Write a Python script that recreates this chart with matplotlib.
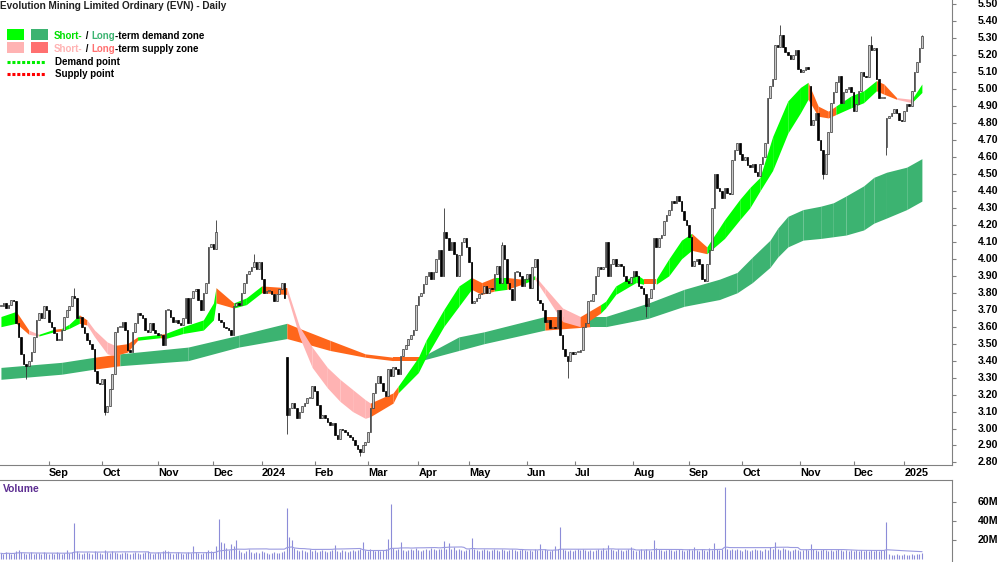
import numpy as np
import pandas as pd
import matplotlib
matplotlib.use("Agg")
import matplotlib.pyplot as plt
from matplotlib.patches import Rectangle
from matplotlib.lines import Line2D
from matplotlib.transforms import blended_transform_factory

plt.rcParams['font.family'] = ['Liberation Sans', 'DejaVu Sans']

TITLE = "Evolution Mining Limited Ordinary (EVN) - Daily"

# trading calendar of the window (ASX holidays removed)
first_day = "2023-08-07"
holidays = ["2023-12-25", "2023-12-26", "2024-01-01", "2024-01-26", "2024-03-29",
            "2024-04-01", "2024-04-25", "2024-06-10", "2024-12-25", "2024-12-26",
            "2025-01-01"]

# daily closes
closes = [
    3.72, 3.74, 3.71, 3.73, 3.76, 3.75, 3.62, 3.54, 3.44, 3.38, 3.37, 3.40, 3.45, 3.54, 3.64, 3.68, 3.65, 3.72, 3.70, 3.63,
    3.60, 3.56, 3.52, 3.52, 3.58, 3.66, 3.70, 3.72, 3.78, 3.77, 3.65, 3.66, 3.60, 3.56, 3.52, 3.50, 3.47, 3.34, 3.27, 3.26,
    3.29, 3.10, 3.13, 3.23, 3.32, 3.57, 3.60, 3.60, 3.63, 3.58, 3.46, 3.45, 3.57, 3.62, 3.68, 3.67, 3.65, 3.58, 3.57, 3.62,
    3.58, 3.56, 3.55, 3.55, 3.49, 3.70, 3.70, 3.66, 3.63, 3.64, 3.62, 3.61, 3.65, 3.77, 3.62, 3.77, 3.81, 3.82, 3.76, 3.70,
    3.80, 3.86, 4.07, 4.09, 4.06, 4.16, 3.64, 3.63, 3.60, 3.59, 3.58, 3.55, 3.72, 3.74, 3.73, 3.80, 3.86, 3.91, 3.93, 3.95,
    3.98, 3.94, 3.98, 3.88, 3.80, 3.81, 3.81, 3.79, 3.75, 3.79, 3.82, 3.86, 3.77, 3.08, 3.12, 3.15, 3.12, 3.06, 3.10, 3.13,
    3.15, 3.18, 3.18, 3.25, 3.22, 3.14, 3.06, 3.08, 3.06, 3.04, 3.02, 3.03, 2.96, 2.94, 3.00, 2.99, 2.98, 2.96, 2.95, 2.93,
    2.90, 2.88, 2.86, 2.90, 2.92, 2.98, 3.12, 3.21, 3.27, 3.31, 3.27, 3.22, 3.19, 3.35, 3.31, 3.36, 3.35, 3.32, 3.43, 3.47,
    3.49, 3.53, 3.55, 3.58, 3.73, 3.78, 3.80, 3.85, 3.90, 3.92, 3.88, 3.92, 4.00, 4.05, 3.90, 4.16, 4.12, 4.05, 4.10, 4.03,
    3.90, 4.02, 4.10, 4.12, 4.07, 3.98, 3.74, 3.75, 3.77, 3.79, 3.80, 3.84, 3.80, 3.83, 3.82, 3.91, 3.96, 3.86, 4.08, 4.00,
    3.86, 3.82, 3.76, 3.92, 3.92, 3.90, 3.84, 3.88, 3.91, 3.83, 3.95, 4.00, 3.76, 3.74, 3.70, 3.63, 3.64, 3.59, 3.60, 3.59,
    3.70, 3.55, 3.47, 3.43, 3.40, 3.45, 3.44, 3.45, 3.45, 3.46, 3.60, 3.62, 3.75, 3.75, 3.79, 3.90, 3.95, 3.94, 3.95, 4.10,
    3.90, 3.97, 4.00, 3.96, 3.97, 3.96, 3.90, 3.87, 3.86, 3.89, 3.93, 3.90, 3.84, 3.83, 3.79, 3.72, 3.77, 3.82, 4.12, 4.07,
    4.12, 4.14, 4.22, 4.26, 4.29, 4.34, 4.33, 4.37, 4.34, 4.28, 4.23, 4.20, 4.13, 3.96, 3.99, 4.00, 3.97, 3.88, 3.87, 3.97,
    4.05, 4.30, 4.50, 4.42, 4.40, 4.36, 4.42, 4.39, 4.38, 4.58, 4.64, 4.68, 4.62, 4.58, 4.60, 4.55, 4.54, 4.56, 4.51, 4.49,
    4.56, 4.60, 4.68, 4.95, 5.02, 5.06, 5.26, 5.25, 5.32, 5.25, 5.22, 5.20, 5.18, 5.20, 5.23, 5.12, 5.10, 5.11, 5.13, 5.12,
    4.79, 4.82, 4.86, 4.70, 4.64, 4.50, 4.62, 4.75, 4.92, 4.98, 5.04, 5.08, 4.92, 4.98, 5.00, 5.01, 4.98, 4.87, 4.91, 4.99,
    5.10, 5.08, 5.07, 5.26, 5.23, 5.24, 5.06, 4.95, 4.95, 4.95, 4.83, 4.84, 4.86, 4.88, 4.86, 4.82, 4.81, 4.87, 4.91, 4.90,
    4.99, 5.10, 5.16, 5.24, 5.31,
]
# opens that gapped away from the previous close
gap_opens = {86: 3.68, 113: 3.42, 320: 5.02, 350: 4.66}
# visible wick extremes
wick_highs = {29: 3.83, 85: 4.23, 100: 4.03, 175: 4.30, 198: 4.10, 308: 5.38, 344: 5.31, 364: 5.32}
wick_lows = {10: 3.29, 41: 3.08, 113: 2.97, 142: 2.84, 224: 3.30, 255: 3.66, 325: 4.47, 350: 4.61}

# volume in millions
volumes = [
    6, 5, 7, 6, 5, 6, 8, 9, 7, 6, 5, 6, 7, 5, 6, 6, 5, 7, 6, 5,
    6, 5, 7, 6, 5, 6, 9, 6, 7, 38, 8, 6, 5, 6, 7, 6, 5, 8, 7, 6,
    5, 9, 7, 6, 8, 7, 6, 5, 6, 7, 6, 5, 6, 7, 6, 5, 6, 7, 8, 6,
    5, 6, 7, 6, 8, 9, 8, 6, 5, 6, 7, 6, 5, 6, 7, 6, 14, 7, 6, 5,
    6, 7, 9, 8, 7, 14, 42, 18, 17, 12, 9, 16, 14, 20, 9, 7, 6, 8, 11, 7,
    6, 7, 6, 8, 7, 6, 5, 6, 7, 6, 6, 7, 8, 54, 23, 20, 12, 9, 8, 9,
    8, 7, 10, 8, 9, 7, 8, 9, 8, 7, 8, 9, 15, 8, 7, 9, 8, 7, 8, 9,
    8, 9, 10, 18, 9, 8, 10, 9, 8, 9, 8, 9, 10, 21, 58, 12, 9, 10, 18, 9,
    8, 9, 10, 9, 12, 9, 8, 9, 10, 9, 12, 10, 9, 11, 10, 19, 11, 17, 10, 13,
    9, 10, 9, 8, 9, 10, 22, 11, 9, 8, 9, 10, 9, 8, 9, 10, 9, 8, 10, 9,
    8, 9, 10, 9, 8, 9, 11, 9, 8, 9, 8, 10, 9, 16, 9, 10, 9, 8, 9, 14,
    10, 34, 10, 9, 8, 9, 8, 9, 10, 9, 10, 9, 8, 9, 8, 9, 10, 9, 12, 9,
    15, 11, 9, 8, 10, 9, 8, 9, 10, 13, 9, 8, 9, 10, 9, 11, 9, 8, 20, 12,
    11, 9, 8, 9, 10, 9, 8, 9, 10, 9, 8, 9, 10, 9, 13, 9, 8, 10, 9, 8,
    12, 9, 17, 10, 9, 11, 76, 10, 9, 11, 9, 10, 9, 8, 10, 9, 8, 9, 10, 9,
    9, 8, 10, 9, 13, 10, 18, 11, 9, 12, 10, 9, 8, 9, 10, 9, 8, 9, 10, 9,
    16, 10, 9, 8, 9, 10, 9, 8, 9, 8, 9, 10, 9, 8, 9, 8, 9, 8, 9, 8,
    9, 8, 9, 8, 9, 8, 9, 8, 9, 9, 39, 5, 4, 4, 5, 4, 4, 5, 4, 4,
    5, 4, 5, 5, 6,
]

# short-term zone: day index, upper edge, lower edge, state of the following stretch
# D = demand, S = supply, T = turning
st_idx = [0, 6, 11, 15, 21, 24, 27, 31, 34, 37, 42, 45, 50, 54, 63, 65, 72, 80, 84, 85,
          92, 97, 103, 113, 118, 123, 129, 134, 139, 144, 146, 155, 157, 165, 168, 175, 181, 186, 190, 195,
          200, 206, 211, 215, 222, 229, 237, 239, 243, 251, 254, 259, 264, 269, 273, 279, 286, 292, 296, 300,
          305, 311, 316, 319, 323, 327, 330, 336, 341, 346, 349, 354, 360, 364]
st_top = [3.66, 3.69, 3.58, 3.555, 3.585, 3.59, 3.615, 3.67, 3.64, 3.58,
          3.51, 3.49, 3.50, 3.54, 3.555, 3.56, 3.60, 3.64, 3.74, 3.83,
          3.74, 3.77, 3.84, 3.83, 3.60, 3.48, 3.36, 3.29, 3.23, 3.17,
          3.15, 3.21, 3.25, 3.42, 3.52, 3.70, 3.84, 3.89, 3.86, 3.89,
          3.89, 3.88, 3.90, 3.83, 3.71, 3.66, 3.73, 3.75, 3.84, 3.91,
          3.88, 3.88, 4.00, 4.11, 4.15, 4.07, 4.23, 4.35, 4.42, 4.48,
          4.72, 4.93, 5.01, 5.04, 4.90, 4.87, 4.90, 4.96, 4.99, 5.05,
          5.03, 4.95, 4.94, 5.03]
st_bot = [3.60, 3.62, 3.555, 3.545, 3.57, 3.575, 3.59, 3.62, 3.61, 3.54,
          3.44, 3.43, 3.45, 3.52, 3.535, 3.53, 3.56, 3.58, 3.64, 3.74,
          3.71, 3.73, 3.80, 3.79, 3.54, 3.36, 3.24, 3.16, 3.10, 3.06,
          3.07, 3.15, 3.21, 3.33, 3.42, 3.60, 3.72, 3.82, 3.79, 3.81,
          3.82, 3.85, 3.88, 3.79, 3.63, 3.60, 3.68, 3.71, 3.79, 3.86,
          3.85, 3.85, 3.90, 4.00, 4.05, 4.03, 4.12, 4.23, 4.30, 4.40,
          4.52, 4.74, 4.86, 4.94, 4.84, 4.83, 4.85, 4.89, 4.92, 4.99,
          4.97, 4.94, 4.92, 4.98]
st_state = ("DTSDTDDTSS" "STTDTDDDDT" "DDTSSSSSSS" "TTDDDDDTTD"
            "TDSSSTDDDD" "TDDDTDDDDD" "DDDTTTDDDT" "TSDD")

# long-term zone
lt_idx = [0, 24, 37, 47, 74, 94, 113, 118, 130, 144, 155, 166, 181, 191, 215, 233, 239,
          256, 270, 284, 291, 297, 304, 307, 311, 317, 324, 329, 334, 341, 345, 350, 358, 364]
lt_top = [3.36, 3.39, 3.42, 3.44, 3.48, 3.55, 3.62, 3.59, 3.52, 3.44, 3.42, 3.42, 3.54, 3.57,
          3.66, 3.66, 3.66, 3.74, 3.82, 3.88, 3.92, 4.01, 4.11, 4.18, 4.25, 4.29, 4.31, 4.33,
          4.37, 4.43, 4.48, 4.51, 4.54, 4.59]
lt_bot = [3.29, 3.32, 3.35, 3.37, 3.40, 3.48, 3.53, 3.51, 3.46, 3.42, 3.40, 3.40, 3.46, 3.50,
          3.58, 3.60, 3.60, 3.65, 3.72, 3.76, 3.80, 3.86, 3.95, 4.01, 4.07, 4.11, 4.12, 4.13,
          4.14, 4.17, 4.21, 4.24, 4.29, 4.34]
lt_state = "DDSDDDSSSSSDDDSDDDDDDDDDDDDDDDDDDD"

short_colors = {"D": "#00ff00", "S": "#ffb3b3", "T": "#ff661a"}
long_colors = {"D": "#3cb371", "S": "#ff661a"}

W, H = 1000, 562
XMIN, XMAX = -0.37, 375.9


def fx(px):
    return px / W


def fy(py):
    return 1 - py / H


cal = pd.offsets.CustomBusinessDay(holidays=holidays)
days = pd.date_range(first_day, periods=len(closes), freq=cal)
x = np.arange(len(closes))

fig = plt.figure(figsize=(10, 5.62), dpi=100)
ax = fig.add_axes([0, fy(465), fx(952), 465 / H])
vax = fig.add_axes([0, 0, fx(952), 82 / H])

# zones
for k in range(len(lt_idx) - 1):
    ax.fill_between([lt_idx[k], lt_idx[k + 1]], [lt_top[k], lt_top[k + 1]], [lt_bot[k], lt_bot[k + 1]],
                    color=long_colors[lt_state[k]], lw=0, zorder=1)
for k in range(len(st_idx) - 1):
    ax.fill_between([st_idx[k], st_idx[k + 1]], [st_top[k], st_top[k + 1]], [st_bot[k], st_bot[k + 1]],
                    color=short_colors[st_state[k]], lw=0, zorder=2)

# candles
opens = [gap_opens.get(i, closes[i - 1] if i else closes[0]) for i in x]
lo = np.minimum(opens, closes)
hi = np.maximum(opens, closes)
wlo = [min(lo[i], wick_lows.get(i, lo[i])) for i in x]
whi = [max(hi[i], wick_highs.get(i, hi[i])) for i in x]
up = np.array(closes) >= np.array(opens)
ax.vlines(x, wlo, whi, color="#333333", lw=0.6, zorder=3)
ax.bar(x, np.maximum(hi - lo, 0.006), bottom=lo, width=0.62,
       color=np.where(up, "#c8c8c8", "#000000"), edgecolor=np.where(up, "#3a3a3a", "#000000"),
       linewidth=0.5, zorder=4)

ax.set_xlim(XMIN, XMAX)
ax.set_ylim(2.785, 5.525)

month_pos, month_lab = [], []
for i in range(1, len(days)):
    if days[i].month != days[i - 1].month:
        month_pos.append(i)
        month_lab.append(str(days[i].year) if days[i].month == 1 else days[i].strftime("%b"))
ax.set_xticks(month_pos)
ax.set_xticklabels(month_lab, ha="left", fontsize=7.8, fontweight="bold")
ax.tick_params(axis="x", direction="in", length=3, pad=2, color="#808080")

# price scale on the right, labels set a fixed distance from the spine
yt = np.round(np.arange(2.8, 5.51, 0.1), 2)
ax.yaxis.tick_right()
ax.set_yticks(yt)
ax.set_yticklabels([])
ax.tick_params(axis="y", direction="out", length=3, color="#808080")
ytrans = blended_transform_factory(ax.transAxes, ax.transData)
for v in yt:
    ax.text(978 / 952, v, f"{v:.2f}", transform=ytrans, ha="left", va="center",
            fontsize=7.6, fontweight="bold", clip_on=False)
for s in ["left", "top"]:
    ax.spines[s].set_visible(False)
for s in ["right", "bottom"]:
    ax.spines[s].set_color("#808080")

# volume pane
vax.vlines(x, 0, volumes, color="#8c8cd8", lw=0.8)
vol_avg = pd.Series(volumes).rolling(30, min_periods=1).mean()
vax.plot(x, vol_avg, color="#9a9ae0", lw=0.8)
vax.set_xlim(XMIN, XMAX)
vax.set_ylim(-3.2, 83.2)
vax.set_xticks([])
vax.yaxis.tick_right()
vax.set_yticks([20, 40, 60])
vax.set_yticklabels([])
vax.tick_params(axis="y", direction="out", length=3, color="#808080")
vtrans = blended_transform_factory(vax.transAxes, vax.transData)
for v in [20, 40, 60]:
    vax.text(978 / 952, v, f"{v}M", transform=vtrans, ha="left", va="center",
             fontsize=7.6, fontweight="bold", clip_on=False)
for s in ["left", "bottom"]:
    vax.spines[s].set_visible(False)
for s in ["right", "top"]:
    vax.spines[s].set_color("#808080")
fig.text(fx(3), fy(489), "Volume", color="#5c2d91", fontsize=7.4, fontweight="bold", va="center")

# title and legend
fig.text(fx(0), fy(6), TITLE, fontsize=7.2, fontweight="bold", va="center", color="#202020")

swatches = [(7, 29, "#00ff00"), (31, 29, "#3cb371"), (7, 42, "#ffb3b3"), (31, 42, "#ff7070")]
for sx, sy, c in swatches:
    fig.add_artist(Rectangle((fx(sx), fy(sy + 11)), 17 / W, 11 / H, transform=fig.transFigure,
                             facecolor=c, edgecolor="none"))
fig.add_artist(Line2D([fx(7), fx(45)], [fy(62), fy(62)], transform=fig.transFigure,
                      color="#00ee00", lw=2.2, ls=(0, (1, 0.6))))
fig.add_artist(Line2D([fx(7), fx(45)], [fy(74), fy(74)], transform=fig.transFigure,
                      color="#ff0000", lw=2.2, ls=(0, (1, 0.6))))

LEG_FS = 7.0


def chained(xpx, ypx, parts):
    t = fig.text(fx(xpx), fy(ypx), parts[0][0], color=parts[0][1], fontsize=LEG_FS,
                 fontweight="bold", va="bottom")
    for s, c in parts[1:]:
        t = ax.annotate(s, xy=(1, 0), xycoords=t, va="bottom", ha="left", color=c,
                        fontsize=LEG_FS, fontweight="bold", annotation_clip=False)


chained(54, 41, [("Short-", "#00e000"), (" / ", "#000000"), ("Long", "#3cb371"),
                 ("-term demand zone", "#000000")])
chained(54, 54, [("Short-", "#ffb3b3"), (" / ", "#000000"), ("Long", "#ff7070"),
                 ("-term supply zone", "#000000")])
fig.text(fx(55), fy(62), "Demand point", fontsize=LEG_FS, fontweight="bold", va="center")
fig.text(fx(55), fy(74), "Supply point", fontsize=LEG_FS, fontweight="bold", va="center")

fig.savefig("out.png", dpi=100)
